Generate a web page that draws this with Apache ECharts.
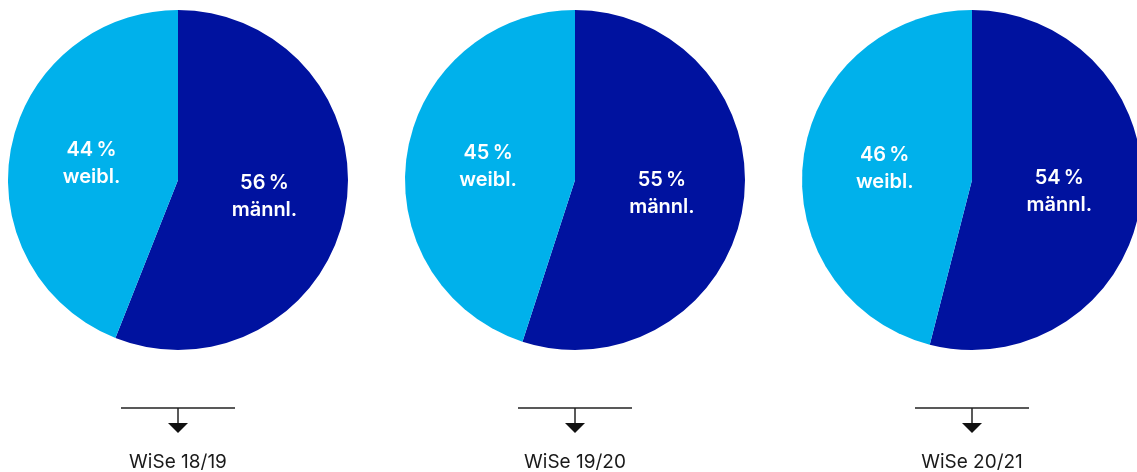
<!DOCTYPE html>
<html><head><meta charset="utf-8">
<script src="https://cdn.jsdelivr.net/npm/echarts@6/dist/echarts.min.js"></script>
<style>html,body{margin:0;padding:0;background:#fff}#c{width:1137px;height:472px}</style>
</head><body><div id="c"></div>
<script>
const semesters = ['WiSe 18/19', 'WiSe 19/20', 'WiSe 20/21'];
const maleShare = [56, 55, 54];
const femaleShare = [44, 45, 46];
const categoryNames = ['männl.', 'weibl.'];
const colors = ['#00129f', '#00b1eb'];

const chart = echarts.init(document.getElementById('c'));
const centersX = [178, 575, 972];
const cy = 180, R = 170;
const font = 'Inter, "Open Sans", sans-serif';

const series = semesters.map((s, i) => ({
  type: 'pie',
  center: [centersX[i], cy],
  radius: R,
  startAngle: 90,
  clockwise: true,
  silent: true,
  label: {
    show: true, position: 'inside', color: '#fff',
    fontFamily: font, fontWeight: 600, fontSize: 20, lineHeight: 27,
    padding: [10, 0, 0, 0],
    formatter: p => p.value + '\u2009%\n' + p.name
  },
  labelLine: { show: false },
  itemStyle: { borderWidth: 0 },
  data: [
    { name: categoryNames[0], value: maleShare[i], itemStyle: { color: colors[0] } },
    { name: categoryNames[1], value: femaleShare[i], itemStyle: { color: colors[1] } }
  ]
}));

const graphic = [];
semesters.forEach((s, i) => {
  const x = centersX[i];
  graphic.push({ type: 'line', shape: { x1: x - 57, y1: 408, x2: x + 57, y2: 408 }, style: { stroke: '#222', lineWidth: 1.5 } });
  graphic.push({ type: 'line', shape: { x1: x, y1: 408, x2: x, y2: 424 }, style: { stroke: '#222', lineWidth: 1.5 } });
  graphic.push({ type: 'polygon', shape: { points: [[x - 10, 423], [x + 10, 423], [x, 433]] }, style: { fill: '#111' } });
  graphic.push({ type: 'text', x: x, y: 462, style: { text: s, fill: '#1a1a1a', font: '19px ' + font, align: 'center', verticalAlign: 'middle' } });
});

chart.setOption({ animation: false, series, graphic });
</script></body></html>
